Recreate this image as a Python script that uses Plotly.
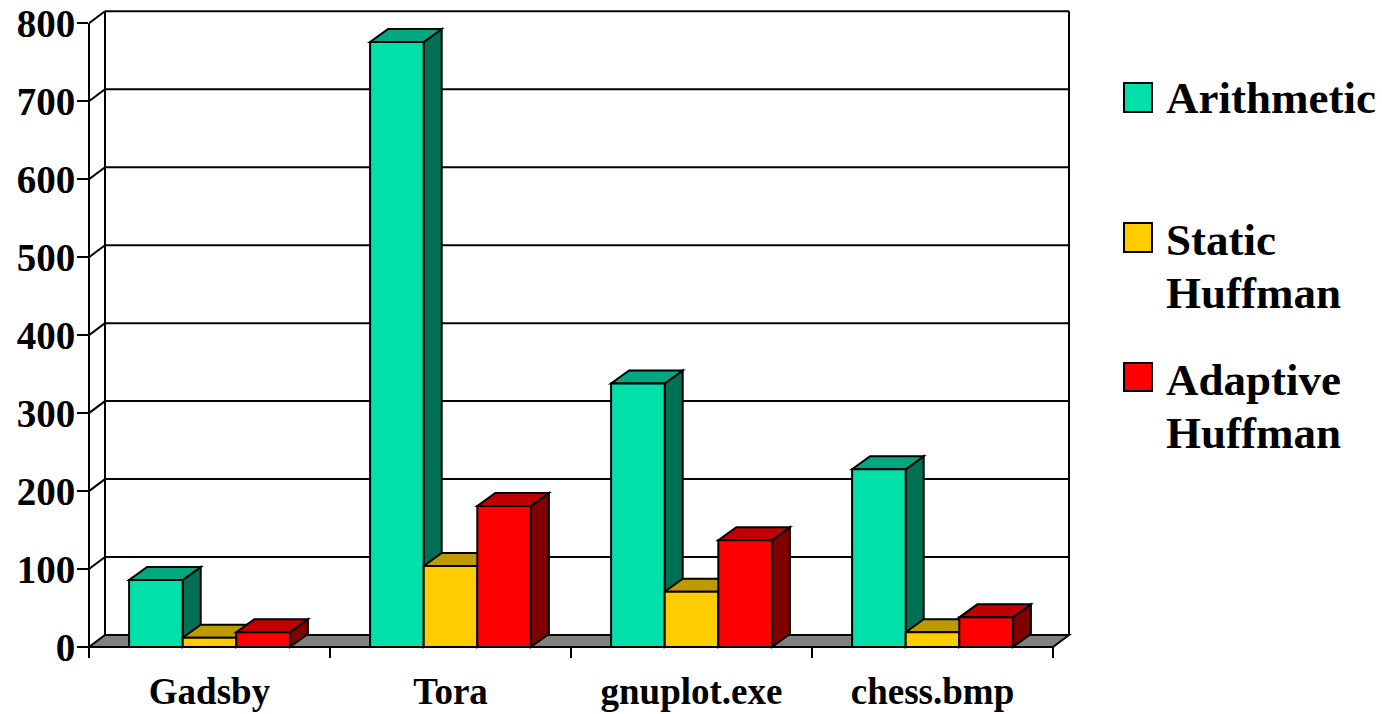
import plotly.graph_objects as go

# ---- data -------------------------------------------------------------
categories = ["Gadsby", "Tora", "gnuplot.exe", "chess.bmp"]
arithmetic = [86, 776, 338, 228]
static_huffman = [12, 104, 71, 19]
adaptive_huffman = [19, 181, 137, 38]
y_tick_values = [0, 100, 200, 300, 400, 500, 600, 700, 800]
legend_lines = [["Arithmetic"], ["Static", "Huffman"], ["Adaptive", "Huffman"]]

# front / top / side colours for each series
series = [
    (arithmetic, "#00E0A8", "#00A882", "#007055"),
    (static_huffman, "#FFCC00", "#C09900", "#806600"),
    (adaptive_huffman, "#FF0000", "#C00000", "#800000"),
]

# ---- page geometry ------------------------------------------------------
FIG_W, FIG_H = 1382, 714
PLOT_L, PLOT_R, PLOT_T, PLOT_B = 89, 1073, 7, 662
ZERO_PX, TOP_TICK_PX = 647, 23.3
CAT_PX = 241
FONT = "Liberation Serif, Times New Roman, serif"

y_max = max(y_tick_values)
units_per_px = y_max / (ZERO_PX - TOP_TICK_PX)
plot_w = PLOT_R - PLOT_L
plot_h = PLOT_B - PLOT_T
x_lo = -0.5
x_hi = x_lo + plot_w / CAT_PX
y_lo = -(PLOT_B - ZERO_PX) * units_per_px
y_hi = y_max + (TOP_TICK_PX - PLOT_T) * units_per_px

# depth of the chart box and of each column, converted to axis units
wall_dx, wall_dy = 16 / CAT_PX, 12 * units_per_px
bar_dx, bar_dy = 18 / CAT_PX, 13 * units_per_px
bar_w = 53.6 / CAT_PX
tick_down = 11 * units_per_px
n_cat = len(categories)


def poly(points):
    return "M " + " L ".join(f"{x},{y}" for x, y in points) + " Z"


def xpaper(xv):
    return (xv - x_lo) / (x_hi - x_lo)


def px_x(p):
    return (p - PLOT_L) / plot_w


def px_y(p):
    return (PLOT_B - p) / plot_h


BLACK = dict(color="black", width=2)
shapes = []

# floor
x_first, x_last = -0.5, n_cat - 0.5
shapes.append(dict(type="path", xref="x", yref="y", layer="below",
                   path=poly([(x_first, 0), (x_last, 0),
                              (x_last + wall_dx, wall_dy), (x_first + wall_dx, wall_dy)]),
                   fillcolor="#808080", line=BLACK))

# back-wall gridlines and left-wall diagonals
for v in y_tick_values[1:]:
    shapes.append(dict(type="line", xref="x", yref="y", layer="below",
                       x0=x_first + wall_dx, x1=x_last + wall_dx,
                       y0=v + wall_dy, y1=v + wall_dy, line=BLACK))
    shapes.append(dict(type="line", xref="x", yref="y", layer="below",
                       x0=x_first, x1=x_first + wall_dx,
                       y0=v, y1=v + wall_dy, line=BLACK))

# back-wall edges
for xe in (x_first + wall_dx, x_last + wall_dx):
    shapes.append(dict(type="line", xref="x", yref="y", layer="below",
                       x0=xe, x1=xe, y0=wall_dy, y1=y_max + wall_dy, line=BLACK))

# front value axis
shapes.append(dict(type="line", xref="paper", yref="y", layer="above",
                   x0=0, x1=0, y0=-tick_down, y1=y_max, line=BLACK))

# category boundary ticks
for k in range(n_cat + 1):
    xp = xpaper(k - 0.5)
    shapes.append(dict(type="line", xref="paper", yref="y", layer="above",
                       x0=xp, x1=xp, y0=0, y1=-tick_down, line=BLACK))

# top and side faces of the columns, drawn left to right
for i in range(n_cat):
    for j, (vals, front, top, side) in enumerate(series):
        v = vals[i]
        x0 = i - 1.5 * bar_w + j * bar_w
        x1 = x0 + bar_w
        shapes.append(dict(type="path", xref="x", yref="y", layer="below",
                           path=poly([(x1, 0), (x1 + bar_dx, bar_dy),
                                      (x1 + bar_dx, v + bar_dy), (x1, v)]),
                           fillcolor=side, line=BLACK))
        shapes.append(dict(type="path", xref="x", yref="y", layer="below",
                           path=poly([(x0, v), (x1, v),
                                      (x1 + bar_dx, v + bar_dy), (x0 + bar_dx, v + bar_dy)]),
                           fillcolor=top, line=BLACK))

fig = go.Figure()

# front faces of the columns
for j, (vals, front, top, side) in enumerate(series):
    fig.add_trace(go.Bar(
        x=list(range(n_cat)), y=vals,
        width=bar_w, offset=-1.5 * bar_w + j * bar_w,
        marker=dict(color=front, line=BLACK),
        name=" ".join(legend_lines[j]), showlegend=False,
    ))

# legend: swatches and labels
annotations = []
swatch_px = [(83, 112), (223, 252), (363, 391)]
line_centres = [[98], [240, 293], [380, 433]]
for j, (vals, front, top, side) in enumerate(series):
    t, b = swatch_px[j]
    shapes.append(dict(type="rect", xref="paper", yref="paper",
                       x0=px_x(1124), x1=px_x(1152), y0=px_y(b), y1=px_y(t),
                       fillcolor=front, line=dict(color="black", width=2)))
    for text, cy in zip(legend_lines[j], line_centres[j]):
        annotations.append(dict(xref="paper", yref="paper", x=px_x(1164), y=px_y(cy),
                                xanchor="left", yanchor="middle", showarrow=False,
                                text=f"<b>{text}</b>",
                                font=dict(family=FONT, size=45, color="black")))

fig.update_layout(
    width=FIG_W, height=FIG_H,
    margin=dict(l=PLOT_L, r=FIG_W - PLOT_R, t=PLOT_T, b=FIG_H - PLOT_B, pad=0, autoexpand=False),
    paper_bgcolor="white", plot_bgcolor="white",
    barmode="overlay",
    shapes=shapes, annotations=annotations,
    showlegend=False,
    font=dict(family=FONT, color="black"),
    xaxis=dict(range=[x_lo, x_hi], tickvals=list(range(n_cat)),
               ticktext=[f"<b>{c}</b>" for c in categories],
               automargin=False,
               showgrid=False, zeroline=False, showline=False, ticks="",
               ticklabelstandoff=4,
               tickfont=dict(family=FONT, size=37, color="black")),
    yaxis=dict(range=[y_lo, y_hi], tickvals=y_tick_values,
               ticktext=[f"<b>{v}</b>" for v in y_tick_values],
               automargin=False,
               showgrid=False, zeroline=False, showline=False,
               ticks="outside", ticklen=11, tickwidth=2, tickcolor="black",
               ticklabelstandoff=-6,
               tickfont=dict(family=FONT, size=39, color="black")),
)

fig.write_html("out.html")
